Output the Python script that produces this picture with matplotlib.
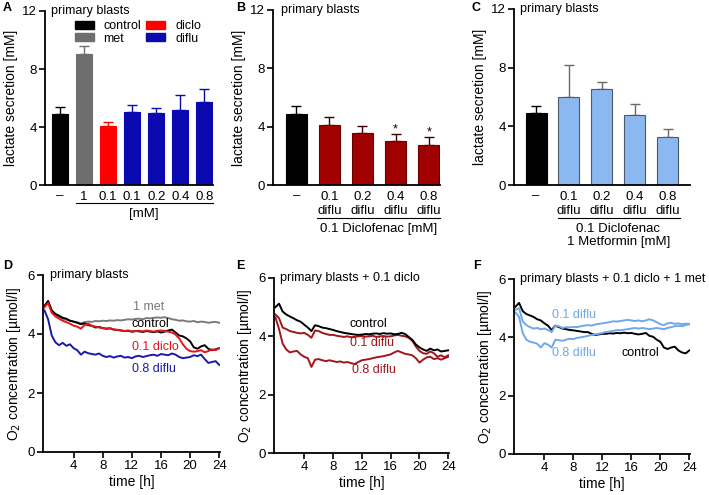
import numpy as np
import matplotlib
matplotlib.use("Agg")
import matplotlib.pyplot as plt
from matplotlib.patches import Patch

plt.rcParams['font.family'] = ['Liberation Sans', 'DejaVu Sans']

# ---------------- data: bar panels ----------------
a_labels = ['–', '1', '0.1', '0.1', '0.2', '0.4', '0.8']
a_groups = ['control', 'met', 'diclo', 'diflu', 'diflu', 'diflu', 'diflu']
a_values = [4.9, 9.0, 4.05, 5.05, 4.95, 5.2, 5.7]
a_errors = [0.5, 0.6, 0.3, 0.5, 0.35, 1.0, 0.9]

b_labels = ['–', '0.1\ndiflu', '0.2\ndiflu', '0.4\ndiflu', '0.8\ndiflu']
b_values = [4.9, 4.1, 3.6, 3.0, 2.75]
b_errors = [0.5, 0.55, 0.45, 0.5, 0.55]
b_stars = ['', '', '', '*', '*']

c_labels = ['–', '0.1\ndiflu', '0.2\ndiflu', '0.4\ndiflu', '0.8\ndiflu']
c_values = [4.9, 6.0, 6.55, 4.75, 3.25]
c_errors = [0.5, 2.2, 0.5, 0.75, 0.55]

# ---------------- data: O2 time courses (0.5 h steps) ----------------
time_h = np.arange(0, 24.01, 0.5)

d_control = [4.95, 5.12, 4.80, 4.68, 4.62, 4.55, 4.52, 4.45, 4.42, 4.38, 4.33, 4.36, 4.30, 4.28, 4.22, 4.24,
             4.20, 4.18, 4.19, 4.15, 4.14, 4.12, 4.10, 4.11, 4.08, 4.10, 4.09, 4.07, 4.10, 4.08, 4.06, 4.09,
             4.05, 4.08, 4.12, 4.15, 4.05, 3.95, 3.92, 3.85, 3.75, 3.55, 3.50, 3.58, 3.62, 3.50, 3.45, 3.48, 3.52]
d_met = [4.95, 5.10, 4.78, 4.65, 4.58, 4.52, 4.48, 4.45, 4.42, 4.40, 4.36, 4.40, 4.42, 4.41, 4.44, 4.43,
         4.45, 4.44, 4.46, 4.45, 4.47, 4.46, 4.48, 4.50, 4.49, 4.51, 4.52, 4.50, 4.54, 4.53, 4.55, 4.56,
         4.55, 4.57, 4.54, 4.50, 4.48, 4.45, 4.46, 4.43, 4.42, 4.44, 4.40, 4.42, 4.41, 4.38, 4.40, 4.41, 4.38]
d_diclo = [4.90, 5.05, 4.72, 4.60, 4.52, 4.45, 4.40, 4.35, 4.28, 4.25, 4.18, 4.30, 4.35, 4.28, 4.25, 4.22,
           4.20, 4.18, 4.20, 4.15, 4.14, 4.12, 4.10, 4.12, 4.08, 4.10, 4.11, 4.09, 4.12, 4.10, 4.08, 4.11,
           4.12, 4.10, 4.08, 4.05, 3.98, 3.85, 3.65, 3.50, 3.42, 3.40, 3.42, 3.45, 3.38, 3.42, 3.48, 3.45, 3.52]
d_diflu08 = [4.80, 4.50, 3.95, 3.72, 3.62, 3.70, 3.60, 3.65, 3.52, 3.45, 3.30, 3.40, 3.35, 3.32, 3.30, 3.34,
             3.26, 3.22, 3.25, 3.20, 3.24, 3.26, 3.20, 3.22, 3.18, 3.24, 3.26, 3.22, 3.25, 3.28, 3.30, 3.26,
             3.32, 3.30, 3.28, 3.34, 3.30, 3.22, 3.18, 3.20, 3.22, 3.28, 3.25, 3.30, 3.15, 3.02, 3.05, 3.08, 2.95]

e_control = [5.00, 5.12, 4.85, 4.75, 4.68, 4.62, 4.55, 4.50, 4.40, 4.30, 4.18, 4.38, 4.35, 4.30, 4.28, 4.25,
             4.22, 4.18, 4.15, 4.12, 4.10, 4.08, 4.06, 4.05, 4.06, 4.08, 4.07, 4.09, 4.10, 4.08, 4.11, 4.09,
             4.10, 4.07, 4.08, 4.12, 4.08, 3.98, 3.88, 3.72, 3.62, 3.55, 3.50, 3.58, 3.52, 3.55, 3.48, 3.50, 3.52]
e_diflu01 = [4.75, 4.62, 4.30, 4.25, 4.18, 4.15, 4.12, 4.10, 4.12, 4.05, 3.95, 4.20, 4.18, 4.12, 4.08, 4.05,
             4.05, 4.02, 4.00, 3.98, 4.00, 3.97, 3.98, 4.00, 4.01, 3.99, 4.00, 4.02, 3.98, 4.00, 4.01, 3.99,
             4.00, 4.03, 4.05, 4.02, 4.00, 3.95, 3.85, 3.65, 3.50, 3.42, 3.40, 3.48, 3.42, 3.30, 3.35, 3.28, 3.35]
e_diflu08 = [4.65, 4.25, 3.75, 3.55, 3.45, 3.48, 3.50, 3.38, 3.30, 3.25, 2.95, 3.20, 3.22, 3.18, 3.15, 3.18,
             3.15, 3.12, 3.14, 3.10, 3.12, 3.08, 3.05, 3.12, 3.18, 3.20, 3.22, 3.25, 3.28, 3.30, 3.32, 3.35,
             3.38, 3.45, 3.50, 3.45, 3.40, 3.38, 3.35, 3.25, 3.10, 3.20, 3.28, 3.30, 3.22, 3.25, 3.20, 3.25, 3.30]

f_control = [5.05, 5.18, 4.90, 4.80, 4.75, 4.70, 4.62, 4.58, 4.48, 4.40, 4.25, 4.40, 4.35, 4.30, 4.28, 4.25,
             4.24, 4.22, 4.20, 4.18, 4.18, 4.12, 4.08, 4.10, 4.12, 4.12, 4.14, 4.13, 4.15, 4.14, 4.16, 4.14,
             4.15, 4.12, 4.10, 4.12, 4.15, 4.05, 4.02, 3.92, 3.85, 3.65, 3.60, 3.65, 3.68, 3.55, 3.48, 3.45, 3.55]
f_diflu01 = [4.95, 5.00, 4.55, 4.42, 4.35, 4.30, 4.32, 4.28, 4.30, 4.25, 4.18, 4.40, 4.38, 4.32, 4.35, 4.34,
             4.36, 4.35, 4.38, 4.40, 4.42, 4.40, 4.44, 4.46, 4.48, 4.50, 4.52, 4.55, 4.54, 4.56, 4.58, 4.60,
             4.58, 4.56, 4.58, 4.55, 4.58, 4.62, 4.58, 4.52, 4.45, 4.42, 4.48, 4.50, 4.46, 4.48, 4.45, 4.47, 4.45]
f_diflu08 = [4.85, 4.70, 4.15, 3.92, 3.85, 3.82, 3.78, 3.65, 3.80, 3.75, 3.65, 3.92, 3.90, 3.88, 3.92, 3.95,
             3.94, 3.98, 4.00, 4.02, 4.05, 4.08, 4.10, 4.12, 4.15, 4.18, 4.20, 4.22, 4.25, 4.24, 4.26, 4.28,
             4.30, 4.32, 4.30, 4.32, 4.30, 4.28, 4.30, 4.32, 4.30, 4.28, 4.32, 4.35, 4.38, 4.40, 4.38, 4.42, 4.45]

# ---------------- style ----------------
COL = {'control': '#000000', 'met': '#6e6e6e', 'diclo': '#ff0000', 'diflu': '#0a0ab0',
       'darkred': '#a00000', 'lightblue': '#8cb8f2'}
FS = 9
YL = 10

W, H = 709, 495
fig = plt.figure(figsize=(W / 100, H / 100), dpi=100)


def add_ax(x0, x1, ytop, ybot):
    return fig.add_axes([x0 / W, 1 - ybot / H, (x1 - x0) / W, (ybot - ytop) / H])


def style(ax):
    for s in ['top', 'right']:
        ax.spines[s].set_visible(False)
    for s in ['left', 'bottom']:
        ax.spines[s].set_linewidth(1.3)
    ax.tick_params(axis='both', labelsize=9.5, width=1.2, length=4, direction='out', pad=2)


def bar_panel(ax, labels, values, errors, colors, edges, ecolors, width):
    x = np.arange(len(values))
    ax.bar(x, values, width=width, color=colors, edgecolor=edges, linewidth=0.8, zorder=2)
    for xi, v, e, ec in zip(x, values, errors, ecolors):
        ax.errorbar(xi, v, yerr=[[0], [e]], color=ec, capsize=3.5, elinewidth=1.0, capthick=1.0, zorder=1)
    ax.set_ylim(0, 12)
    ax.set_yticks([0, 4, 8, 12])
    ax.set_xticks(x)
    ax.set_xticklabels(labels, linespacing=1.25)
    style(ax)
    ax.tick_params(axis='x', length=0, pad=4)
    ax.set_ylabel('lactate secretion [mM]', fontsize=YL, labelpad=3)
    return x


def title_at(ax, px_offset, text):
    # panel title placed a fixed pixel distance right of the y axis, level with the top tick
    bb = ax.get_position()
    frac = px_offset / (bb.width * W)
    ax.text(frac, 1.0, text, transform=ax.transAxes, fontsize=FS, va='center', ha='left', clip_on=False)


# ---- A ----
axA = add_ax(45, 213, 11, 185)
colsA = [COL[g] for g in a_groups]
xA = bar_panel(axA, a_labels, a_values, a_errors, colsA, colsA, colsA, 0.68)
axA.set_xlim(-0.62, 6.36)
title_at(axA, 6, 'primary blasts')
axA.text(xA[1], a_values[1] + a_errors[1] + 0.35, '**', ha='center', va='center', fontsize=7, color='#777777')
handles = [Patch(color=COL['control']), Patch(color=COL['met']),
           Patch(color=COL['diclo']), Patch(color=COL['diflu'])]
axA.legend(handles, ['control', 'met', 'diclo', 'diflu'], ncol=2, frameon=False, fontsize=FS,
           loc='upper left', bbox_to_anchor=(0.17, 0.955), handlelength=1.5, handleheight=0.6,
           columnspacing=0.4, handletextpad=0.8, labelspacing=0.05, borderpad=0.1, borderaxespad=0.0)
trA = axA.get_xaxis_transform()
axA.plot([0.68, 6.34], [-0.103, -0.103], transform=trA, color='black', lw=0.8, clip_on=False)
axA.text(3.5, -0.165, '[mM]', transform=trA, ha='center', va='center', fontsize=9.5)

# ---- B ----
axB = add_ax(273, 440, 10, 185)
colsB = ['#000000'] + [COL['darkred']] * 4
edgB = ['#000000'] + ['#6a0000'] * 4
xB = bar_panel(axB, b_labels, b_values, b_errors, colsB, edgB, ['#000000'] + ['#3a0000'] * 4, 0.64)
axB.set_xlim(-0.7, 4.34)
title_at(axB, 8, 'primary blasts')
for xi, v, e, s in zip(xB, b_values, b_errors, b_stars):
    if s:
        axB.text(xi, v + e + 0.3, s, ha='center', va='center', fontsize=9)
trB = axB.get_xaxis_transform()
axB.plot([0.62, 4.34], [-0.19, -0.19], transform=trB, color='black', lw=0.8, clip_on=False)
axB.text(2.5, -0.25, '0.1 Diclofenac [mM]', transform=trB, ha='center', va='center', fontsize=9.5)

# ---- C ----
axC = add_ax(514, 690, 9, 185)
colsC = ['#000000'] + [COL['lightblue']] * 4
edgC = ['#000000'] + ['#4d5a6e'] * 4
xC = bar_panel(axC, c_labels, c_values, c_errors, colsC, edgC, ['#000000'] + ['#6a6a6a'] * 4, 0.64)
axC.set_xlim(-0.67, 4.68)
title_at(axC, 6, 'primary blasts')
trC = axC.get_xaxis_transform()
axC.plot([0.68, 4.38], [-0.19, -0.19], transform=trC, color='black', lw=0.8, clip_on=False)
axC.text(2.5, -0.215, '0.1 Diclofenac\n1 Metformin [mM]', transform=trC, ha='center', va='top',
         fontsize=9.5, linespacing=1.15)


# ---- line panels ----
def line_panel(ax, title, series, labels, title_px):
    for ys, c in series:
        ax.plot(time_h, ys, color=c, lw=1.4)
    ax.set_xlim(-0.2, 24.1)
    ax.set_ylim(0, 6)
    ax.set_xticks([4, 8, 12, 16, 20, 24])
    ax.set_yticks([0, 2, 4, 6])
    style(ax)
    ax.set_xlabel('time [h]', fontsize=YL, labelpad=2)
    ax.set_ylabel(r'O$_2$ concentration [µmol/l]', fontsize=YL, labelpad=3)
    title_at(ax, title_px, title)
    for (t, y, s, c) in labels:
        ax.text(t, y, s, color=c, fontsize=FS, ha='left', va='center')


axD = add_ax(43, 220, 275, 452)
line_panel(axD, 'primary blasts',
           [(d_met, '#7a7a7a'), (d_control, '#000000'), (d_diclo, '#e8141a'), (d_diflu08, '#1a1aa8')],
           [(12.2, 4.91, '1 met', '#7a7a7a'), (12.0, 4.35, 'control', '#000000'),
            (12.0, 3.57, '0.1 diclo', '#e8141a'), (12.0, 2.82, '0.8 diflu', '#1a1aa8')], 7)

axE = add_ax(274, 449, 278, 453)
line_panel(axE, 'primary blasts + 0.1 diclo',
           [(e_diflu08, '#a0161b'), (e_diflu01, '#a0161b'), (e_control, '#000000')],
           [(10.3, 4.42, 'control', '#000000'), (10.3, 3.77, '0.1 diflu', '#a0161b'),
            (10.6, 2.84, '0.8 diflu', '#a0161b')], 6)

axF = add_ax(514, 690, 279, 454)
line_panel(axF, 'primary blasts + 0.1 diclo + 1 met',
           [(f_control, '#000000'), (f_diflu01, '#6ea8ea'), (f_diflu08, '#6ea8ea')],
           [(5.0, 4.76, '0.1 diflu', '#6ea8ea'), (5.0, 3.47, '0.8 diflu', '#6ea8ea'),
            (14.7, 3.45, 'control', '#000000')], 6)

# panel letters
for letter, (px, py) in zip('ABCDEF', [(3, 8), (236, 8), (472, 8), (3, 266), (236, 266), (473, 266)]):
    fig.text(px / W, 1 - py / H, letter, fontsize=9, fontweight='bold', va='center', ha='left')

fig.savefig('out.png', dpi=100)
